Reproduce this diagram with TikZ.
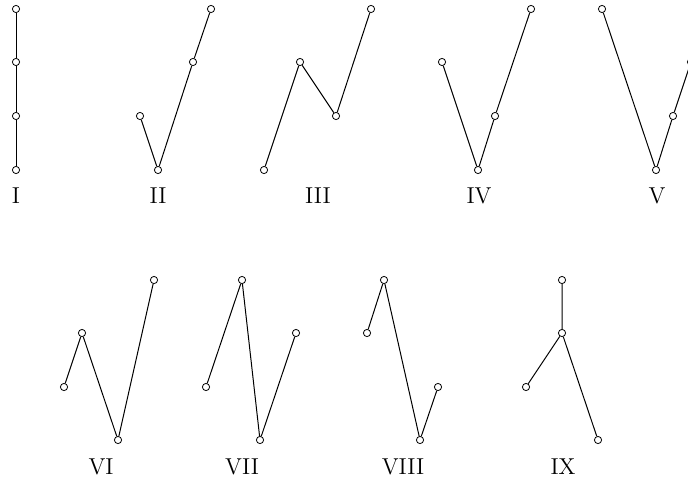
\documentclass[tikz,border=0pt]{standalone}
\begin{document}
\begin{tikzpicture}[x=0.5pt,y=-0.5pt,
  v/.style={circle,draw,fill=white,inner sep=0pt,minimum size=3.6pt,line width=0.4pt},
  e/.style={draw,line width=0.5pt},
  lab/.style={font=\fontsize{11.5}{13}\selectfont,anchor=center,inner sep=0pt}]
\useasboundingbox (0,0) rectangle (688,481);
\clip (0,0) rectangle (688,481);
% I
\node[v] (a1) at (16,9) {};
\node[v] (a2) at (16,62) {};
\node[v] (a3) at (16,116) {};
\node[v] (a4) at (16,170) {};
\draw[e] (a1) -- (a2) -- (a3) -- (a4);
\node[lab] (la) at (16,196) {I};
% II
\node[v] (b1) at (140,116) {};
\node[v] (b2) at (158,170) {};
\node[v] (b3) at (193,62) {};
\node[v] (b4) at (211,9) {};
\draw[e] (b1) -- (b2) -- (b3) -- (b4);
\node[lab] (lb) at (158,196) {II};
% III
\node[v] (c1) at (264,170) {};
\node[v] (c2) at (300,62) {};
\node[v] (c3) at (336,116) {};
\node[v] (c4) at (371,9) {};
\draw[e] (c1) -- (c2) -- (c3) -- (c4);
\node[lab] (lc) at (318,196) {III};
% IV
\node[v] (d1) at (442,62) {};
\node[v] (d2) at (478,170) {};
\node[v] (d3) at (495,116) {};
\node[v] (d4) at (531,9) {};
\draw[e] (d1) -- (d2) -- (d3) -- (d4);
\node[lab] (ld) at (479,196) {IV};
% V
\node[v] (f1) at (602,9) {};
\node[v] (f2) at (656,170) {};
\node[v] (f3) at (673,116) {};
\node[v] (f4) at (691,62) {};
\draw[e] (f1) -- (f2) -- (f3) -- (f4);
\node[lab] (lf) at (657,196) {V};
% VI
\node[v] (g1) at (64,387) {};
\node[v] (g2) at (82,333) {};
\node[v] (g3) at (118,440) {};
\node[v] (g4) at (154,280) {};
\draw[e] (g1) -- (g2) -- (g3) -- (g4);
\node[lab] (lg) at (101,467) {VI};
% VII
\node[v] (h1) at (206,387) {};
\node[v] (h2) at (242,280) {};
\node[v] (h3) at (260,440) {};
\node[v] (h4) at (296,333) {};
\draw[e] (h1) -- (h2) -- (h3) -- (h4);
\node[lab] (lh) at (242,467) {VII};
% VIII
\node[v] (i1) at (367,333) {};
\node[v] (i2) at (384,280) {};
\node[v] (i3) at (420,440) {};
\node[v] (i4) at (438,387) {};
\draw[e] (i1) -- (i2) -- (i3) -- (i4);
\node[lab] (li) at (403,467) {VIII};
% IX
\node[v] (j1) at (562,280) {};
\node[v] (j2) at (562,333) {};
\node[v] (j3) at (526,387) {};
\node[v] (j4) at (598,440) {};
\draw[e] (j1) -- (j2) -- (j3);
\draw[e] (j2) -- (j4);
\node[lab] (lj) at (563,467) {IX};
\end{tikzpicture}
\end{document}
